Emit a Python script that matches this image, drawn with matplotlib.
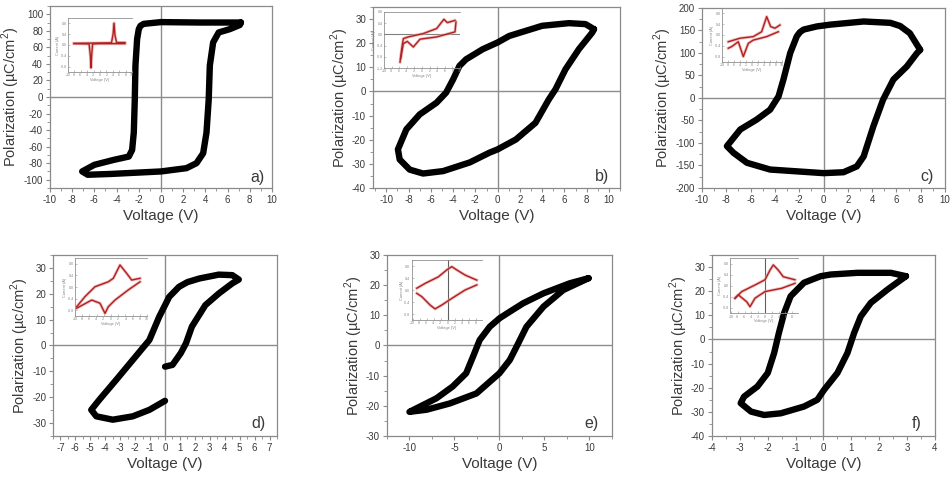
import numpy as np
import matplotlib
matplotlib.use("Agg")
import matplotlib.pyplot as plt
from matplotlib.ticker import MultipleLocator, AutoMinorLocator

plt.rcParams['font.family'] = ['Liberation Sans', 'DejaVu Sans']
plt.rcParams['axes.unicode_minus'] = False
plt.rcParams['mathtext.fontset'] = 'custom'
plt.rcParams['mathtext.rm'] = 'Liberation Sans'

# ---- P-E loops (Voltage V, Polarization uC/cm2) ----
a_v = [7.2, 6.5, 3.5, 0, -1.55, -1.85, -2.0, -2.15, -2.3, -2.36, -2.45, -2.6, -2.9, -4.25, -6.0, -7.1,
       -6.6, -4.5, 0, 2.3, 3.2, 3.8, 4.1, 4.3, 4.4, 4.7, 5.2, 6.2, 7.1, 7.2]
a_p = [90, 90, 90, 90.5, 88.4, 86, 82, 70, 38, -3, -43, -64, -72, -76, -82, -90,
       -94, -93, -90, -86, -80, -68, -43, -3, 38, 66, 78, 82, 87, 90]

b_v = [8.66, 7.9, 6.4, 4.0, 1.05, 0, -1.34, -2.84, -3.43, -4.0, -4.63, -5.5, -7.0, -8.2, -8.96,
       -8.8, -7.9, -6.7, -4.9, -2.5, -0.75, 0, 1.64, 3.4, 4.6, 5.2, 6.1, 7.3, 8.5, 8.66]
b_p = [25.8, 27.9, 28.3, 27.2, 23, 20.3, 17.5, 13.3, 10.6, 5, -0.5, -4.7, -9.5, -15.7, -24,
       -28.2, -32.4, -34, -33, -29.4, -25.4, -24, -19.9, -13, -3.3, 0.9, 9.2, 17.5, 24.4, 25.8]

c_v = [7.95, 7.1, 6.3, 5.5, 3.3, 0.55, -0.55, -1.64, -1.95, -2.2, -2.74, -3.3, -3.7, -4.4, -5.5, -6.85, -7.95,
       -7.4, -6.3, -4.4, -2.2, 0, 1.64, 2.74, 3.3, 4.1, 4.9, 5.75, 6.85, 7.7, 7.95]
c_p = [107, 144, 160, 167, 170, 163, 159, 152, 146, 137, 100, 41, 3.7, -26, -48, -70, -107,
       -122, -144, -159, -163, -167, -165, -152, -130, -63, -3.7, 41, 70, 100, 107]

d_v = [0, 0.5, 1.05, 1.4, 1.8, 2.7, 3.6, 4.5, 4.94, 4.5, 3.6, 2.3, 1.5, 0.94, 0.28, -0.39, -1.05,
       -2.16, -3.27, -4.4, -4.94, -4.6, -3.5, -2.16, -1.05, 0]
d_p = [-8.2, -7.5, -3, 0.8, 7.3, 15.6, 20.1, 24, 25.5, 27.2, 27.4, 25.9, 24.5, 22.7, 18.8, 11.1, 2.1,
       -5.6, -13.3, -21, -24.9, -27.4, -28.7, -27.4, -24.9, -21.4]

e_v = [9.9, 7.8, 4.9, 2.64, 1.15, 0, -1.08, -2.2, -2.94, -3.7, -5.2, -7.0, -10,
       -8.1, -5.5, -2.56, 0, 1.15, 1.9, 3.0, 4.9, 7.1, 9.9]
e_p = [22.3, 20.6, 17.3, 14, 11.2, 9, 6.2, 1.8, -3.7, -9.2, -13.6, -17.5, -22,
       -21.3, -19.2, -15.9, -9.2, -4.8, -0.4, 6.2, 12.9, 18.4, 22.3]

f_v = [2.96, 2.42, 1.22, 0.26, -0.1, -0.7, -1.18, -1.41, -1.6, -1.77, -2.0, -2.37, -2.85, -2.97,
       -2.6, -2.13, -1.53, -0.7, -0.22, 0.02, 0.5, 0.86, 1.1, 1.34, 1.7, 2.3, 2.96]
f_p = [26.2, 27.6, 27.6, 26.9, 26.2, 23.5, 17.9, 11, 2.7, -5.6, -13.9, -19.5, -23.7, -26.4,
       -29.9, -31.3, -30.6, -27.8, -25, -20.9, -13.9, -5.6, 2.7, 9.6, 15.2, 20.7, 26.2]

# ---- inset I-V curves (arbitrary scaled current) ----
ins_a_v1 = [-8.1, -2.0, 3.6, 4.1, 4.4, 4.7, 5.2, 7.8]
ins_a_i1 = [0.06, 0.07, 0.08, 0.4, 0.81, 0.35, 0.09, 0.09]
ins_a_v2 = [7.8, 0, -2.3, -2.6, -2.8, -3.0, -3.4, -8.1]
ins_a_i2 = [0.05, 0.05, 0.04, -0.4, -0.85, -0.4, 0.04, 0.05]

ins_b_v1 = [-5.79, -5.34, -4.92, -3.61, 0.34, 3.86, 5.18, 5.78, 6.65, 8.68]
ins_b_i1 = [-0.99, -0.51, -0.15, -0.09, 0.03, 0.21, 0.44, 0.54, 0.42, 0.50]
ins_b_v2 = [8.94, 8.68, 3.86, -0.53, -2.29, -3.87, -4.92, -5.61]
ins_b_i2 = [0.44, 0.09, -0.09, -0.17, -0.45, -0.25, -0.33, -0.86]

ins_c_v1 = [-7.9, -4.0, 0.43, 3.23, 4.9, 6.23, 7.67, 9.33]
ins_c_i1 = [-0.25, -0.12, -0.06, 0.12, 0.68, 0.31, 0.25, 0.37]
ins_c_v2 = [8.77, 4.9, 0.43, -1.23, -2.9, -4.57, -6.77, -7.9]
ins_c_i2 = [0.12, -0.06, -0.19, -0.31, -0.80, -0.25, -0.43, -0.49]

ins_d_v1 = [-9.53, -7.22, -4.44, -0.75, 0.64, 2.5, 4.36, 5.75, 8.06]
ins_d_i1 = [-0.68, -0.33, 0.01, 0.18, 0.30, 0.76, 0.47, 0.24, 0.30]
ins_d_v2 = [8.06, 4.81, 1.11, -0.75, -1.67, -3.06, -5.36, -9.53]
ins_d_i2 = [0.18, -0.10, -0.45, -0.68, -0.91, -0.56, -0.45, -0.73]

ins_e_v1 = [-8.86, -6.49, -2.69, -0.29, 1.14, 2.57, 4.94, 8.29]
ins_e_i1 = [0.06, 0.22, 0.44, 0.67, 0.78, 0.67, 0.50, 0.33]
ins_e_v2 = [8.29, 4.94, 1.14, -1.71, -3.63, -5.06, -7.43, -8.86]
ins_e_i2 = [0.17, 0.00, -0.28, -0.50, -0.63, -0.50, -0.22, -0.11]

ins_f_v1 = [-8.82, -6.85, -2.94, 0, 1.47, 2.44, 3.91, 5.38, 8.82]
ins_f_i1 = [-0.45, -0.21, 0.03, 0.22, 0.57, 0.76, 0.57, 0.33, 0.22]
ins_f_v2 = [8.82, 4.91, 0, -2.94, -4.41, -5.38, -7.85, -8.82]
ins_f_i2 = [0.09, -0.09, -0.21, -0.45, -0.76, -0.58, -0.33, -0.45]

ylab = "Polarization (\u00b5C/cm$^2$)"
ylab_d = "Polarization (\u00b5c/cm$^2$)"

panels = [
    # axes box, v, p, xlim, ylim, x step, y step, tag, ylabel, tag position
    ([0.0525, 0.6067, 0.2332, 0.3808], a_v, a_p, (-10, 10), (-110, 110), 2, 20, "a)", ylab, (0.937, 0.06)),
    ([0.3918, 0.6067, 0.2595, 0.3787], b_v, b_p, (-11.2, 11), (-40, 35), 2, 10, "b)", ylab, (0.927, 0.062)),
    ([0.7374, 0.6067, 0.2553, 0.3766], c_v, c_p, (-10, 10), (-200, 200), 2, 50, "c)", ylab, (0.925, 0.062)),
    ([0.0557, 0.0879, 0.2353, 0.3787], d_v, d_p, (-7.5, 7.5), (-35, 35), 1, 10, "d)", ylab_d, (0.917, 0.07)),
    ([0.4065, 0.0879, 0.2363, 0.3787], e_v, e_p, (-12.5, 12.5), (-30, 30), 5, 10, "e)", ylab, (0.91, 0.07)),
    ([0.7479, 0.0879, 0.2342, 0.3787], f_v, f_p, (-4, 4), (-40, 35), 1, 10, "f)", ylab, (0.918, 0.07)),
]

insets = [
    ([0.0714, 0.8494, 0.0672, 0.1130], ins_a_v1, ins_a_i1, ins_a_v2, ins_a_i2, (-10, 10), (-1, 1), None),
    ([0.4034, 0.8577, 0.0798, 0.1172], ins_b_v1, ins_b_i1, ins_b_v2, ins_b_i2, (-10, 10), (-1.2, 0.8), "h"),
    ([0.7584, 0.8703, 0.0630, 0.1130], ins_c_v1, ins_c_i1, ins_c_v2, ins_c_i2, (-10, 10), (-1, 1), None),
    ([0.0788, 0.3389, 0.0756, 0.1213], ins_d_v1, ins_d_i1, ins_d_v2, ins_d_i2, (-10, 10), (-1, 1), None),
    ([0.4325, 0.3305, 0.0735, 0.1255], ins_e_v1, ins_e_i1, ins_e_v2, ins_e_i2, (-10.3, 9.7), (-1, 1), "v"),
    ([0.7668, 0.3445, 0.0714, 0.1151], ins_f_v1, ins_f_i1, ins_f_v2, ins_f_i2, (-10.3, 9.7), (-1, 1), "v"),
]

fig = plt.figure(figsize=(9.52, 4.78), dpi=100)

spine_col = "#8a8a8a"
txt_col = "#3a3a3a"

for pos, v, p, xl, yl, xs, ys, tag, ylb, tagpos in panels:
    ax = fig.add_axes(pos)
    ax.axhline(0, color="#8c8c8c", lw=1.0, zorder=1)
    ax.axvline(0, color="#8c8c8c", lw=1.0, zorder=1)
    ax.plot(v, p, color="black", lw=4.6, solid_joinstyle="round", solid_capstyle="round", zorder=3)
    ax.set_xlim(xl)
    ax.set_ylim(yl)
    ax.xaxis.set_major_locator(MultipleLocator(xs))
    ax.yaxis.set_major_locator(MultipleLocator(ys))
    ax.xaxis.set_minor_locator(AutoMinorLocator(2))
    ax.yaxis.set_minor_locator(AutoMinorLocator(2))
    ax.tick_params(which="major", direction="out", length=3, width=0.8, colors=spine_col,
                   labelcolor=txt_col, labelsize=7, pad=2)
    ax.tick_params(which="minor", direction="out", length=2, width=0.6, colors=spine_col)
    for s in ax.spines.values():
        s.set_color(spine_col)
        s.set_linewidth(0.9)
    ax.set_xlabel("Voltage (V)", fontsize=11, color=txt_col, labelpad=3)
    ax.set_ylabel(ylb, fontsize=10.5, color=txt_col, labelpad=1)
    ax.text(tagpos[0], tagpos[1], tag, transform=ax.transAxes, fontsize=11.5,
            color=txt_col, ha="center", va="center")

for pos, v1, i1, v2, i2, xl, yl, ref in insets:
    ia = fig.add_axes(pos, facecolor="none")
    if ref == "h":
        ia.axhline(0, color="#808080", lw=0.8)
    elif ref == "v":
        ia.axvline(0, color="#606060", lw=0.8)
    ia.plot(v1, i1, color="#e8a0a0", lw=2.2, alpha=0.7)
    ia.plot(v2, i2, color="#e8a0a0", lw=2.2, alpha=0.7)
    ia.plot(v1, i1, color="#b02020", lw=1.0)
    ia.plot(v2, i2, color="#b02020", lw=1.0)
    ia.set_xlim(xl)
    ia.set_ylim(yl)
    ia.xaxis.set_major_locator(MultipleLocator(2))
    ia.yaxis.set_major_locator(MultipleLocator(0.4))
    ia.tick_params(direction="in", length=1.2, width=0.4, colors="#909090",
                   labelcolor="#808080", labelsize=2.5, pad=1)
    ia.spines["right"].set_visible(False)
    for s in ["left", "bottom", "top"]:
        ia.spines[s].set_color("#909090")
        ia.spines[s].set_linewidth(0.6)
    ia.set_xlabel("Voltage (V)", fontsize=2.8, color="#808080", labelpad=0.5)
    ia.set_ylabel("Current (A)", fontsize=2.8, color="#808080", labelpad=0.5)

fig.savefig("out.png", dpi=100, facecolor="white")
